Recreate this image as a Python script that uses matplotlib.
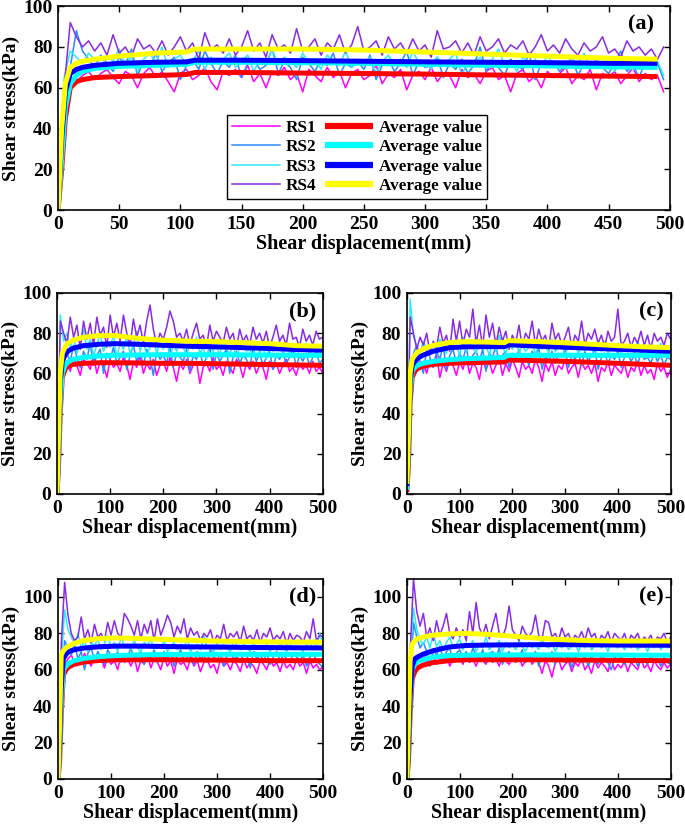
import numpy as np
import matplotlib
matplotlib.use('Agg')
import matplotlib.pyplot as plt

plt.rcParams['font.family'] = ['Liberation Serif', 'DejaVu Serif']
plt.rcParams['font.weight'] = 'bold'
plt.rcParams['axes.labelweight'] = 'bold'

# ---------------- dati ----------------
# pannello (a): 0..495 mm
a_rs1 = [0, 50, 61, 63, 66, 68, 64, 67, 69, 65, 62, 68, 66, 60, 67, 70, 65, 68, 63, 58,
         67, 69, 64, 66, 70, 63, 59, 68, 66, 69, 65, 71, 63, 67, 60, 68, 66, 70, 64, 67,
         58, 69, 66, 63, 70, 65, 68, 60, 67, 69, 64, 66, 71, 62, 67, 65, 69, 59, 66, 68,
         64, 70, 63, 67, 66, 60, 69, 65, 67, 62, 68, 70, 64, 66, 58, 67, 69, 63, 66, 60,
         68, 65, 67, 70, 62, 66, 64, 69, 59, 67, 65, 68, 62, 66, 70, 63, 67, 64, 66, 58]
a_rs2 = [0, 45, 70, 88, 78, 74, 70, 76, 72, 68, 75, 71, 79, 66, 73, 70, 77, 68, 72, 75,
         64, 71, 74, 69, 78, 72, 67, 73, 70, 76, 65, 72, 74, 69, 71, 79, 67, 73, 70, 64,
         75, 72, 68, 74, 71, 77, 66, 72, 70, 73, 69, 76, 64, 71, 74, 68, 72, 78, 66, 73,
         70, 71, 75, 65, 72, 69, 74, 67, 71, 80, 68, 73, 70, 66, 74, 71, 69, 77, 64, 72,
         70, 73, 68, 71, 75, 66, 72, 69, 74, 70, 67, 72, 78, 68, 71, 65, 73, 70, 72, 64]
a_rs3 = [0, 65, 78, 75, 72, 77, 74, 70, 76, 73, 79, 71, 75, 68, 74, 77, 72, 80, 70, 74,
         76, 71, 73, 78, 69, 75, 72, 74, 77, 70, 73, 76, 68, 74, 72, 79, 71, 75, 73, 70,
         77, 72, 74, 69, 76, 73, 71, 78, 70, 74, 72, 75, 67, 73, 76, 71, 74, 70, 78, 72,
         73, 69, 75, 71, 74, 77, 66, 73, 72, 75, 70, 74, 79, 71, 73, 68, 75, 72, 74, 70,
         76, 71, 73, 69, 74, 72, 77, 70, 73, 71, 75, 68, 73, 72, 70, 74, 71, 69, 73, 66]
a_rs4 = [0, 60, 92, 85, 80, 83, 78, 82, 76, 86, 77, 80, 75, 84, 79, 81, 77, 83, 76, 80,
         85, 78, 82, 74, 87, 79, 81, 77, 84, 76, 80, 88, 78, 82, 75, 86, 79, 81, 77, 89,
         78, 80, 84, 76, 82, 79, 86, 77, 81, 90, 78, 80, 83, 76, 85, 79, 82, 77, 84, 78,
         81, 75, 88, 79, 80, 83, 77, 82, 76, 85, 78, 80, 84, 77, 81, 79, 83, 76, 80, 86,
         78, 81, 77, 84, 79, 76, 82, 78, 80, 85, 77, 79, 75, 83, 78, 80, 76, 79, 74, 80]
a_avg_x = [0, 3, 6, 10, 15, 20, 30, 50, 80, 105, 112, 150, 200, 250, 300, 350, 400, 450, 490]
a_avg1 = [0, 20, 45, 60, 63, 64, 65, 65.5, 66, 66.5, 67.5, 67.5, 67.2, 67, 66.7, 66.3, 66, 65.7, 65.5]
a_avg2 = [0, 25, 50, 62, 66, 68, 69.5, 70.5, 71, 71.5, 72.5, 72.5, 72.3, 72, 71.5, 71, 70.7, 70.3, 70]
a_avg3 = [0, 35, 58, 67, 69, 70, 71, 72, 72.5, 72.7, 73.5, 73.5, 73.3, 73, 72.7, 72.5, 72.3, 72, 72]
a_avg4 = [0, 40, 62, 70, 72, 73, 74, 75.5, 77, 77.5, 79, 79, 79, 78.5, 77.5, 76.5, 75.5, 74.5, 74]

# pannello (b): 0..500 mm
b_rs1 = [0, 52, 63, 66, 61, 68, 64, 59, 67, 65, 62, 69, 60, 66, 64, 58, 67, 63, 65, 61,
         68, 64, 57, 66, 63, 69, 60, 65, 62, 67, 59, 64, 66, 61, 68, 63, 56, 65, 62, 67,
         60, 64, 66, 55, 63, 65, 61, 68, 62, 64, 59, 66, 63, 60, 67, 64, 58, 65, 62, 66,
         60, 64, 63, 57, 66, 62, 65, 60, 64, 67, 61, 63, 59, 65, 62, 64, 60, 66, 61, 63, 60]
b_rs2 = [0, 55, 72, 70, 66, 74, 68, 63, 71, 67, 75, 64, 69, 72, 60, 70, 67, 73, 65, 68,
         71, 62, 69, 74, 66, 70, 64, 72, 68, 59, 71, 67, 69, 65, 73, 63, 70, 68, 66, 72,
         61, 69, 67, 71, 64, 68, 73, 62, 70, 66, 69, 72, 60, 68, 71, 65, 69, 67, 63, 72,
         66, 70, 64, 68, 71, 62, 69, 67, 70, 65, 68, 72, 63, 69, 66, 70, 64, 68, 71, 65, 67]
b_rs3 = [0, 89, 76, 80, 73, 78, 70, 75, 82, 72, 77, 69, 74, 80, 71, 76, 73, 79, 68, 75,
         72, 78, 70, 74, 81, 71, 76, 69, 73, 78, 70, 75, 72, 77, 68, 74, 71, 76, 73, 69,
         75, 72, 78, 70, 73, 67, 75, 71, 74, 69, 77, 72, 70, 74, 68, 73, 76, 71, 72, 69,
         75, 70, 73, 67, 74, 71, 72, 76, 69, 73, 70, 74, 68, 72, 71, 75, 69, 73, 70, 72, 74]
b_rs4 = [0, 86, 80, 75, 88, 78, 84, 72, 86, 77, 85, 74, 88, 79, 83, 73, 89, 78, 85, 76,
         89, 80, 74, 87, 78, 84, 75, 86, 94, 82, 74, 80, 77, 83, 91, 86, 78, 80, 76, 82,
         74, 80, 85, 77, 79, 73, 84, 76, 81, 78, 75, 83, 77, 80, 72, 82, 76, 79, 74, 83,
         77, 80, 75, 81, 73, 78, 84, 76, 79, 74, 85, 77, 78, 73, 82, 76, 79, 74, 81, 77, 78]
b_avg_x = [0, 3, 6, 10, 15, 20, 30, 50, 80, 110, 150, 200, 250, 300, 350, 400, 450, 500]
b_avg1 = [0, 15, 40, 58, 62, 63.5, 64.5, 65, 65.3, 65.3, 65.2, 65, 65, 64.8, 64.6, 64.4, 64.2, 64]
b_avg2 = [0, 20, 45, 60, 64, 65.5, 67, 68, 68.7, 69, 69.2, 69.3, 69.3, 69.3, 69.2, 69.1, 69, 69]
b_avg3 = [0, 25, 55, 66, 69, 71, 72.5, 73.8, 74.5, 74.8, 74.5, 74, 73.5, 73.2, 72.8, 72.4, 71.9, 71.5]
b_avg4 = [0, 30, 60, 70, 73, 75, 76.5, 78, 78.8, 78.8, 77.5, 76.5, 76, 75.8, 75.3, 74.8, 73.8, 73.5]

# pannello (c)
c_rs1 = [0, 58, 65, 68, 62, 66, 60, 67, 63, 69, 58, 65, 61, 67, 64, 59, 66, 62, 68, 60,
         65, 63, 57, 67, 62, 66, 60, 64, 68, 59, 65, 61, 67, 63, 58, 66, 62, 64, 60, 67,
         63, 56, 65, 61, 66, 59, 64, 62, 67, 60, 63, 65, 58, 66, 62, 64, 60, 65, 56, 63,
         61, 66, 59, 64, 62, 60, 65, 58, 63, 61, 66, 59, 64, 60, 62, 57, 65, 61, 63, 58, 62]
c_rs2 = [0, 60, 70, 74, 66, 60, 72, 68, 63, 71, 67, 74, 62, 69, 72, 65, 70, 67, 73, 64,
         69, 71, 66, 72, 61, 70, 68, 74, 65, 69, 71, 63, 70, 67, 72, 66, 69, 64, 71, 68,
         73, 62, 69, 66, 71, 65, 70, 68, 72, 63, 69, 67, 70, 64, 71, 66, 69, 72, 62, 68,
         70, 65, 69, 67, 71, 63, 68, 70, 66, 69, 64, 71, 67, 68, 65, 70, 66, 69, 64, 68, 67]
c_rs3 = [0, 97, 78, 74, 70, 76, 72, 69, 75, 71, 77, 73, 70, 76, 72, 74, 69, 78, 71, 75,
         73, 70, 77, 72, 74, 69, 76, 71, 79, 73, 70, 75, 72, 77, 70, 74, 71, 73, 76, 69,
         75, 72, 74, 70, 77, 71, 73, 75, 69, 74, 72, 76, 70, 73, 71, 75, 72, 69, 74, 71,
         76, 70, 73, 72, 75, 69, 74, 71, 73, 70, 76, 72, 71, 74, 69, 73, 71, 75, 70, 72, 74]
c_rs4 = [0, 88, 80, 72, 78, 74, 80, 70, 76, 73, 83, 75, 79, 71, 87, 76, 86, 74, 82, 78,
         92, 75, 84, 73, 89, 78, 85, 74, 83, 76, 81, 72, 79, 75, 84, 73, 80, 77, 86, 74,
         82, 76, 79, 72, 85, 77, 80, 74, 78, 83, 73, 79, 76, 86, 74, 80, 77, 82, 75, 79,
         73, 81, 76, 78, 92, 74, 76, 80, 73, 78, 75, 81, 74, 79, 72, 80, 76, 78, 74, 80, 77]
c_avg_x = [0, 3, 6, 10, 15, 20, 30, 50, 80, 110, 150, 185, 192, 250, 300, 350, 400, 450, 500]
c_avg1 = [1, 15, 45, 58, 61, 62.5, 63.5, 64.5, 65, 65.3, 65.5, 65.7, 66.7, 66.3, 66, 65.5, 65, 64.5, 64]
c_avg2 = [2, 20, 50, 61, 63, 64, 65, 66, 66.8, 67.3, 67.6, 68, 69, 69, 69, 69, 69, 69, 69]
c_avg3 = [4, 25, 55, 64, 66, 67.5, 69, 71, 72.8, 73.2, 73.3, 73.3, 74.3, 73.5, 73, 72.5, 72, 71.5, 71]
c_avg4 = [5, 30, 60, 67, 69, 70.5, 72, 74, 75.3, 75.8, 75.6, 75.3, 76.3, 75.8, 75.2, 74.5, 73.8, 73.2, 72.8]

# pannello (d)
d_rs1 = [0, 55, 62, 66, 68, 64, 67, 63, 69, 65, 62, 68, 64, 66, 61, 67, 63, 65, 60, 68,
         64, 66, 62, 67, 59, 65, 63, 68, 61, 66, 64, 60, 67, 62, 65, 58, 66, 63, 64, 60,
         67, 62, 65, 59, 64, 66, 61, 63, 58, 66, 62, 64, 60, 65, 63, 59, 66, 61, 64, 62,
         58, 65, 63, 60, 66, 62, 64, 59, 65, 61, 63, 60, 66, 62, 64, 58, 65, 61, 63, 60, 62]
d_rs2 = [0, 50, 76, 72, 68, 74, 66, 70, 60, 69, 72, 65, 70, 67, 63, 71, 68, 66, 70, 64,
         69, 67, 72, 65, 68, 70, 63, 69, 66, 71, 64, 68, 70, 66, 69, 62, 68, 71, 65, 67,
         69, 63, 70, 66, 68, 64, 71, 67, 65, 69, 62, 68, 70, 66, 67, 64, 69, 68, 61, 70,
         66, 68, 65, 69, 63, 67, 70, 65, 68, 66, 64, 69, 67, 65, 68, 62, 67, 69, 65, 63, 61]
d_rs3 = [0, 65, 93, 82, 78, 74, 80, 72, 76, 70, 75, 73, 77, 71, 74, 79, 72, 75, 70, 78,
         73, 74, 71, 76, 72, 70, 75, 73, 77, 71, 74, 72, 76, 70, 73, 75, 71, 74, 72, 77,
         70, 73, 74, 71, 79, 72, 73, 70, 75, 71, 74, 72, 70, 76, 73, 71, 74, 72, 70, 75,
         71, 73, 72, 74, 70, 73, 71, 75, 72, 70, 74, 71, 73, 72, 70, 74, 72, 76, 71, 80, 73]
d_rs4 = [0, 75, 108, 90, 80, 76, 78, 89, 77, 82, 75, 85, 78, 80, 76, 86, 79, 87, 80, 78,
         91, 88, 84, 79, 87, 77, 85, 80, 87, 76, 88, 79, 84, 90, 86, 78, 84, 80, 88, 77,
         83, 79, 81, 76, 80, 78, 82, 75, 79, 77, 85, 76, 80, 78, 81, 75, 84, 77, 79, 76,
         82, 75, 80, 78, 83, 76, 79, 77, 81, 74, 80, 76, 79, 78, 75, 81, 77, 88, 76, 79, 78]
d_avg_x = [0, 3, 6, 10, 15, 20, 30, 50, 80, 110, 150, 200, 250, 300, 350, 400, 450, 500]
d_avg1 = [0, 10, 35, 57, 60, 61.5, 63, 64.3, 65.2, 65.5, 65.5, 65.5, 65.4, 65.3, 65.2, 65, 65, 65]
d_avg2 = [0, 15, 40, 60, 62, 63.5, 65, 66.3, 67.3, 67.8, 68.2, 68.4, 68.5, 68.5, 68.5, 68.5, 68.5, 68.5]
d_avg3 = [0, 20, 50, 66, 68.5, 70, 71, 72, 72.7, 73, 73, 72.8, 72.6, 72.5, 72.3, 72.2, 72.1, 72]
d_avg4 = [0, 30, 68, 70.5, 72, 73, 74.5, 76.2, 77.2, 77.5, 77.2, 76.7, 76.2, 75.8, 75.5, 75.3, 75.2, 75.2]

# pannello (e)
e_rs1 = [0, 55, 63, 67, 65, 69, 64, 66, 68, 63, 66, 64, 68, 62, 66, 65, 67, 63, 68, 64,
         66, 62, 67, 65, 63, 68, 64, 66, 62, 67, 65, 63, 66, 64, 68, 62, 65, 67, 63, 66,
         64, 58, 65, 62, 56, 64, 66, 60, 63, 65, 59, 64, 62, 66, 60, 63, 58, 65, 61, 64,
         62, 59, 66, 60, 63, 61, 65, 59, 64, 62, 60, 66, 61, 63, 59, 65, 62, 60, 64, 61, 63]
e_rs2 = [0, 55, 86, 78, 72, 75, 70, 62, 71, 68, 73, 66, 70, 72, 64, 69, 71, 67, 70, 65,
         72, 68, 66, 71, 64, 69, 70, 66, 72, 63, 68, 70, 65, 69, 67, 71, 64, 68, 66, 70,
         62, 69, 67, 65, 70, 63, 68, 66, 64, 69, 61, 67, 66, 64, 68, 62, 67, 65, 63, 68,
         66, 64, 60, 67, 65, 68, 63, 66, 64, 67, 62, 66, 65, 63, 68, 64, 66, 62, 67, 64, 63]
e_rs3 = [0, 66, 94, 82, 76, 74, 78, 72, 80, 73, 76, 71, 75, 78, 72, 74, 77, 71, 75, 73,
         76, 70, 74, 72, 78, 71, 74, 73, 76, 70, 75, 72, 74, 71, 76, 73, 70, 75, 72, 74,
         71, 77, 73, 72, 75, 70, 74, 72, 76, 71, 73, 75, 70, 74, 72, 76, 71, 73, 75, 72,
         74, 70, 76, 73, 72, 75, 71, 74, 72, 77, 71, 73, 74, 70, 75, 72, 76, 71, 74, 72, 73]
e_rs4 = [0, 70, 110, 92, 84, 91, 78, 83, 76, 87, 79, 84, 91, 80, 77, 83, 78, 82, 76, 92,
         80, 97, 83, 79, 85, 77, 84, 91, 80, 78, 83, 95, 82, 79, 76, 84, 80, 78, 81, 90,
         79, 77, 87, 86, 78, 80, 76, 83, 78, 80, 75, 79, 77, 81, 76, 83, 78, 80, 74, 79,
         77, 81, 75, 80, 78, 76, 80, 74, 79, 77, 80, 75, 78, 76, 79, 74, 78, 77, 80, 75, 78]
e_avg_x = [0, 3, 6, 10, 15, 20, 30, 50, 80, 110, 150, 200, 250, 300, 350, 400, 450, 500]
e_avg1 = [0, 10, 35, 55, 59, 61, 62.5, 64, 65, 65.5, 65.5, 65.5, 65.5, 65.4, 65.3, 65.2, 65.1, 65]
e_avg2 = [0, 15, 40, 60, 63, 64.5, 65.5, 67, 67.8, 68, 68.2, 68.2, 68.2, 68.2, 68.2, 68.1, 68, 68]
e_avg3 = [0, 20, 45, 62, 66, 67, 68.5, 70.5, 72.5, 73.3, 73.6, 73.7, 73.8, 73.8, 73.7, 73.6, 73.5, 73.5]
e_avg4 = [0, 30, 65, 74, 76, 77, 78, 79, 79.7, 80, 79.5, 78.5, 77.3, 76.5, 76, 75.8, 75.8, 75.8]

# ---------------- stile ----------------
raw_colors = ['#FF00FF', '#2B8CFF', '#2EEAF5', '#8A2BE2']
avg_colors = ['#FF0000', '#00FFFF', '#0000FF', '#FFFF00']
raw_names = ['RS1', 'RS2', 'RS3', 'RS4']

fig = plt.figure(figsize=(6.85, 8.34), dpi=100)

pannelli = [
    ('(a)', [0.0847, 0.748, 0.893, 0.2446], (a_rs1, a_rs2, a_rs3, a_rs4), 495,
     a_avg_x, (a_avg1, a_avg2, a_avg3, a_avg4), 100, np.arange(0, 501, 50)),
    ('(b)', [0.0832, 0.4077, 0.388, 0.241], (b_rs1, b_rs2, b_rs3, b_rs4), 500,
     b_avg_x, (b_avg1, b_avg2, b_avg3, b_avg4), 100, np.arange(0, 501, 100)),
    ('(c)', [0.594, 0.4077, 0.385, 0.241], (c_rs1, c_rs2, c_rs3, c_rs4), 500,
     c_avg_x, (c_avg1, c_avg2, c_avg3, c_avg4), 100, np.arange(0, 501, 100)),
    ('(d)', [0.0847, 0.066, 0.387, 0.240], (d_rs1, d_rs2, d_rs3, d_rs4), 500,
     d_avg_x, (d_avg1, d_avg2, d_avg3, d_avg4), 110, np.arange(0, 501, 100)),
    ('(e)', [0.594, 0.066, 0.385, 0.240], (e_rs1, e_rs2, e_rs3, e_rs4), 500,
     e_avg_x, (e_avg1, e_avg2, e_avg3, e_avg4), 110, np.arange(0, 501, 100)),
]

for tag, pos, raws, xend, ax_x, avgs, ytop, xt in pannelli:
    ax = fig.add_axes(pos)
    linee_raw = []
    for v, col, nome in zip(raws, raw_colors, raw_names):
        x = np.linspace(0, xend, len(v))
        l, = ax.plot(x, v, color=col, lw=1.1, label=nome)
        linee_raw.append(l)
    linee_avg = []
    for v, col in zip(avgs, avg_colors):
        l, = ax.plot(ax_x, v, color=col, lw=3.6, label='Average value',
                     solid_capstyle='butt')
        linee_avg.append(l)
    ax.set_xlim(0, 500)
    ax.set_ylim(0, ytop)
    ax.set_xticks(xt)
    ax.set_yticks(np.arange(0, 101, 20))
    ax.tick_params(direction='in', top=True, right=True, labelsize=14,
                   length=4, width=1.0, pad=4)
    for s in ax.spines.values():
        s.set_linewidth(1.2)
    ax.set_xlabel('Shear displacement(mm)', fontsize=14.5, labelpad=1)
    ax.set_ylabel('Shear stress(kPa)', fontsize=14, labelpad=2)
    ax.text(0.975, 0.96, tag, transform=ax.transAxes, ha='right', va='top',
            fontsize=16, fontweight='bold')
    if tag == '(a)':
        leg = ax.legend(linee_raw + linee_avg,
                        raw_names + ['Average value'] * 4,
                        ncol=2, loc='lower left', bbox_to_anchor=(0.262, 0.012),
                        fontsize=12.3, handlelength=2.8, handletextpad=0.35,
                        columnspacing=0.5, labelspacing=0.2, borderpad=0.3,
                        fancybox=False, framealpha=1, edgecolor='black')
        leg.get_frame().set_linewidth(1.0)
        for h in leg.get_lines()[4:]:
            h.set_linewidth(4.5)

fig.savefig('out.png', dpi=100)
